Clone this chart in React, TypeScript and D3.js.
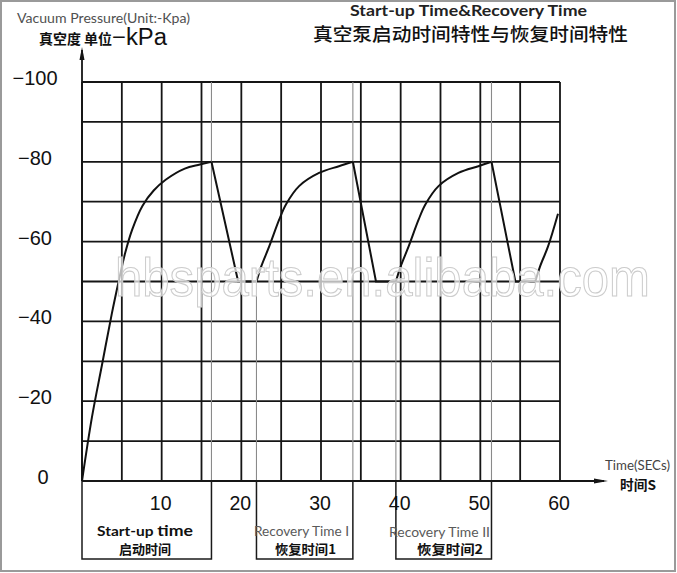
import React from "react";
import * as d3 from "d3";

// ---- data ----
const gridTimes = [0, 5, 10, 15, 20, 25, 30, 35, 40, 45, 50, 55, 60];
const gridValues = [0, -10, -20, -30, -40, -50, -60, -70, -80, -90, -100];
const xTickLabels = [10, 20, 30, 40, 50, 60];
const yTickLabels = [0, -20, -40, -60, -80, -100];

const startupT = [0, 1.25, 2.5, 3.75, 4.6, 5.4, 6.3, 7.6, 9, 10.5, 12.9, 14.8, 16.25];
const startupV = [0, -16, -29, -42, -50, -57, -63, -69, -72.8, -75.5, -78.3, -79.3, -80];

const drop1T = [16.25, 19.6, 21.9];
const drop1V = [-80, -50, -50];

const rec1T = [21.9, 22.5, 23.5, 24.75, 25.6, 27.25, 29.75, 32.25, 34];
const rec1V = [-50, -53.8, -58.8, -65.5, -69.3, -73.9, -77.2, -78.9, -80];

const drop2T = [34, 36.9, 39.4];
const drop2V = [-80, -50, -50];

const rec2T = [39.4, 40.0, 41.0, 42.25, 43.1, 44.75, 47.25, 49.75, 51.4];
const rec2V = [-50, -53.8, -58.8, -65.5, -69.3, -73.9, -77.2, -78.9, -80];

const drop3T = [51.4, 54.4, 56.9];
const drop3V = [-80, -50, -50];

const rec3T = [56.9, 57.5, 58.5, 59.75];
const rec3V = [-50, -53.8, -58.8, -67];

// boxes: [start, end] in seconds
const boxStarts = [0, 21.9, 39.4];
const boxEnds = [16.25, 34, 51.4];
const peakTimes = [16.25, 34, 51.4];
const recoveryStarts = [21.9, 39.4];

const W = 677;
const H = 573;

export default function App() {
  const x = d3.scaleLinear().domain([0, 60]).range([82, 560]);
  const y = d3.scaleLinear().domain([0, -100]).range([481, 82]);
  const boxBottom = 559;

  const lineSmooth = d3
    .line<[number, number]>()
    .x((d) => x(d[0]))
    .y((d) => y(d[1]))
    .curve(d3.curveCatmullRom.alpha(0.5));
  const lineStraight = d3
    .line<[number, number]>()
    .x((d) => x(d[0]))
    .y((d) => y(d[1]));

  const zip = (a: number[], b: number[]) => a.map((t, i) => [t, b[i]] as [number, number]);

  const smoothSeries = [zip(startupT, startupV), zip(rec1T, rec1V), zip(rec2T, rec2V), zip(rec3T, rec3V)];
  const straightSeries = [zip(drop1T, drop1V), zip(drop2T, drop2V), zip(drop3T, drop3V)];

  const gridColor = "#151515";
  const sans = "'Liberation Sans', Arial, sans-serif";
  const cal = "Lato, 'Open Sans', sans-serif";
  const cjk = "'Noto Sans CJK SC', sans-serif";

  return (
    <svg
      width={W}
      height={H}
      style={{ position: "absolute", left: 0, top: 0, background: "#fff" }}
    >
      <rect x={0} y={0} width={W} height={H} fill="#fff" />
      {/* frame */}
      <rect x={1} y={1} width={W - 3} height={H - 3} fill="none" stroke="#9a9a9a" strokeWidth={2} />

      {/* titles */}
      <text x={17} y={23} fontFamily={cal} fontSize={14} fill="#505050" textLength={173} lengthAdjust="spacingAndGlyphs">
        Vacuum Pressure(Unit:-Kpa)
      </text>
      <text x={39} y={44} fontFamily={cjk} fontSize={14} fontWeight={700} fill="#111" textLength={73} lengthAdjust="spacingAndGlyphs">
        真空度 单位
      </text>
      <text x={112} y={45} fontFamily={sans} fontSize={23} fill="#111" textLength={55} lengthAdjust="spacingAndGlyphs">
        −kPa
      </text>
      <text x={350} y={16} fontFamily={cal} fontSize={15} fontWeight={700} fill="#222" textLength={237} lengthAdjust="spacingAndGlyphs">
        Start-up Time&amp;Recovery Time
      </text>
      <text x={313} y={41} fontFamily={cjk} fontSize={18.5} fontWeight={500} fill="#111" textLength={315} lengthAdjust="spacingAndGlyphs">
        真空泵启动时间特性与恢复时间特性
      </text>

      {/* grid */}
      {gridValues.map((v) => (
        <line key={"h" + v} x1={x(0)} x2={x(60)} y1={y(v)} y2={y(v)} stroke={gridColor} strokeWidth={1.8} />
      ))}
      {gridTimes.map((t) => (
        <line key={"v" + t} x1={x(t)} x2={x(t)} y1={y(-100)} y2={y(0)} stroke={gridColor} strokeWidth={1.8} />
      ))}

      {/* extension lines */}
      {peakTimes.map((t) => (
        <line key={"p" + t} x1={x(t)} x2={x(t)} y1={y(-100)} y2={y(0)} stroke="#8a8a8a" strokeWidth={1.1} />
      ))}
      {recoveryStarts.map((t) => (
        <line key={"r" + t} x1={x(t)} x2={x(t)} y1={y(-50)} y2={y(0)} stroke="#8a8a8a" strokeWidth={1.1} />
      ))}

      {/* axes with arrows */}
      <line x1={x(0)} x2={x(0)} y1={y(0)} y2={50} stroke={gridColor} strokeWidth={1.8} />
      <path d={`M${x(0)},47 L${x(0) - 2.5},60 L${x(0) + 2.5},60 Z`} fill={gridColor} />
      <line x1={x(0)} x2={604} y1={y(0)} y2={y(0)} stroke={gridColor} strokeWidth={1.8} />
      <path d={`M608,${y(0)} L594,${y(0) - 2.5} L594,${y(0) + 2.5} Z`} fill={gridColor} />

      {/* boxes */}
      {boxStarts.map((s, i) => (
        <rect
          key={"b" + i}
          x={x(s)}
          y={y(0)}
          width={x(boxEnds[i]) - x(s)}
          height={boxBottom - y(0)}
          fill="none"
          stroke="#1a1a1a"
          strokeWidth={1.5}
        />
      ))}

      {/* curves */}
      {smoothSeries.map((s, i) => (
        <path key={"s" + i} d={lineSmooth(s) || ""} fill="none" stroke="#111" strokeWidth={2} />
      ))}
      {straightSeries.map((s, i) => (
        <path key={"d" + i} d={lineStraight(s) || ""} fill="none" stroke="#111" strokeWidth={2} />
      ))}

      {/* y tick labels */}
      {yTickLabels.map((v) => (
        <text
          key={"yl" + v}
          x={v === 0 ? 43 : 35}
          y={y(v) + 3}
          textAnchor="middle"
          fontFamily={sans}
          fontSize={20}
          fill="#111"
        >
          {v === 0 ? "0" : "−" + Math.abs(v)}
        </text>
      ))}

      {/* x tick labels */}
      {xTickLabels.map((t) => (
        <text key={"xl" + t} x={x(t) - 1} y={510} textAnchor="middle" fontFamily={sans} fontSize={19.5} fill="#111">
          {t}
        </text>
      ))}

      {/* axis label x */}
      <text x={605} y={470} fontFamily={cal} fontSize={12.5} fill="#444" textLength={65} lengthAdjust="spacingAndGlyphs">
        Time(SECs)
      </text>
      <text x={620} y={490} fontFamily={cjk} fontSize={13.5} fontWeight={700} fill="#111" textLength={36} lengthAdjust="spacingAndGlyphs">
        时间S
      </text>

      {/* box labels */}
      <text x={97} y={536} fontFamily={cal} fontWeight={700} fill="#111" textLength={96} lengthAdjust="spacingAndGlyphs">
        <tspan fontSize={14}>Start-up </tspan>
        <tspan fontSize={16}>time</tspan>
      </text>
      <text x={145} y={554} textAnchor="middle" fontFamily={cjk} fontSize={13} fontWeight={700} fill="#111">
        启动时间
      </text>
      <text x={254} y={536} fontFamily={cal} fontSize={12.5} fill="#5a5a5a" textLength={95} lengthAdjust="spacingAndGlyphs">
        Recovery Time I
      </text>
      <text x={275} y={554} fontFamily={cjk} fontSize={13} fontWeight={700} fill="#111" textLength={61} lengthAdjust="spacingAndGlyphs">
        恢复时间1
      </text>
      <text x={389} y={537} fontFamily={cal} fontSize={12.5} fill="#5a5a5a" textLength={101} lengthAdjust="spacingAndGlyphs">
        Recovery Time II
      </text>
      <text x={417} y={554} fontFamily={cjk} fontSize={13} fontWeight={700} fill="#111" textLength={66} lengthAdjust="spacingAndGlyphs">
        恢复时间2
      </text>

      {/* watermark */}
      <text
        transform="translate(115,296) scale(1,1.1)"
        x={0}
        y={0}
        fontFamily={sans}
        fontSize={49}
        fill="#fff"
        fillOpacity={0.7}
        stroke="#cccccc"
        strokeWidth={1}
        textLength={535}
        lengthAdjust="spacingAndGlyphs"
      >
        hbsparts.en.alibaba.com
      </text>
    </svg>
  );
}
